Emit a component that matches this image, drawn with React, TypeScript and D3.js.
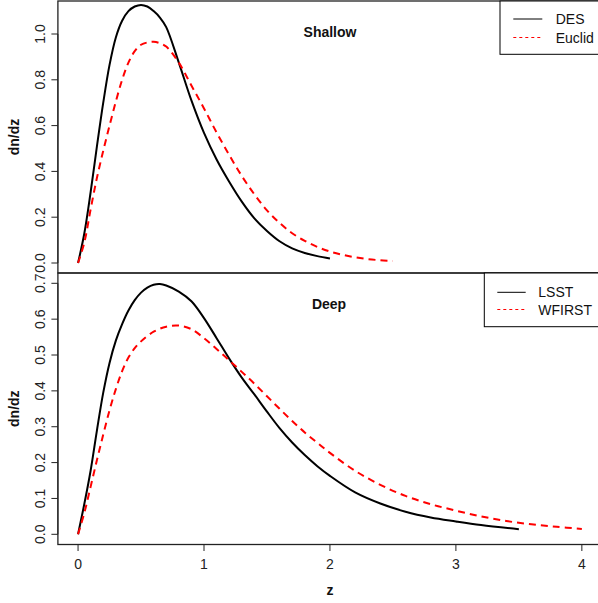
import React from "react";
import * as d3 from "d3";

// ---- data ----
const desZ = [0,0.05,0.1,0.15,0.2,0.25,0.3,0.35,0.4,0.45,0.5,0.55,0.6,0.65,0.7,0.8,0.9,1.0,1.1,1.2,1.3,1.4,1.5,1.6,1.7,1.8,1.9,2.0];
const desN = [0,0.13,0.31,0.51,0.70,0.865,0.985,1.058,1.10,1.12,1.127,1.12,1.10,1.072,1.03,0.875,0.71,0.568,0.452,0.355,0.268,0.195,0.14,0.095,0.064,0.044,0.03,0.02];

const euclidZ = [0,0.05,0.1,0.15,0.2,0.25,0.3,0.35,0.4,0.45,0.5,0.55,0.6,0.65,0.7,0.8,0.9,1.0,1.1,1.2,1.3,1.4,1.5,1.6,1.7,1.8,1.9,2.0,2.1,2.2,2.3,2.4,2.5];
const euclidN = [0,0.09,0.235,0.372,0.49,0.6,0.705,0.8,0.875,0.925,0.953,0.963,0.966,0.96,0.945,0.875,0.775,0.675,0.57,0.472,0.38,0.30,0.23,0.175,0.13,0.097,0.07,0.05,0.036,0.025,0.017,0.012,0.009];

const lsstZ = [0,0.05,0.1,0.15,0.2,0.25,0.3,0.35,0.4,0.45,0.5,0.55,0.6,0.65,0.7,0.8,0.9,1.0,1.1,1.2,1.3,1.4,1.5,1.6,1.7,1.8,1.9,2.0,2.2,2.4,2.6,2.8,3.0,3.2,3.5];
const lsstN = [0,0.085,0.178,0.29,0.395,0.478,0.54,0.586,0.624,0.653,0.674,0.688,0.696,0.698,0.694,0.677,0.65,0.603,0.547,0.49,0.437,0.39,0.342,0.296,0.256,0.221,0.19,0.163,0.117,0.086,0.063,0.047,0.036,0.026,0.014];

const wfirstZ = [0,0.05,0.1,0.15,0.2,0.25,0.3,0.35,0.4,0.45,0.5,0.6,0.7,0.8,0.9,1.0,1.1,1.2,1.3,1.4,1.5,1.6,1.7,1.8,1.9,2.0,2.2,2.4,2.6,2.8,3.0,3.2,3.4,3.6,3.8,4.0];
const wfirstN = [0,0.06,0.133,0.207,0.278,0.346,0.405,0.455,0.493,0.519,0.538,0.565,0.579,0.582,0.572,0.547,0.517,0.485,0.453,0.42,0.385,0.35,0.316,0.284,0.255,0.227,0.177,0.138,0.107,0.084,0.066,0.05,0.037,0.028,0.021,0.015];

const zTicks = [0, 1, 2, 3, 4];
const topTicks = [0, 0.2, 0.4, 0.6, 0.8, 1.0];
const bottomTicks = [0, 0.1, 0.2, 0.3, 0.4, 0.5, 0.6, 0.7];

const FONT = "Liberation Sans, Arial, Helvetica, sans-serif";

export default function App() {
  const left = 57.9, right = 602;
  const topY0 = 1, topY1 = 273, botY0 = 273, botY1 = 544.5;

  const x = d3.scaleLinear().domain([-0.16, 4.16]).range([left, right]);
  const yTop = d3.scaleLinear().domain([0, 1]).range([263, 34]);
  const yBot = d3.scaleLinear().domain([0, 0.7]).range([534.3, 283.3]);

  const mk = (zs: number[], ns: number[], y: d3.ScaleLinear<number, number>) =>
    d3.line<number>().x((_, i) => x(zs[i])).y((d) => y(d)).curve(d3.curveCatmullRom.alpha(0.5))(ns) || "";

  const frame = "#222";

  const yAxis = (ticks: number[], y: d3.ScaleLinear<number, number>, key: string) => (
    <g key={key}>
      <line x1={left} x2={left} y1={y(ticks[0])} y2={y(ticks[ticks.length - 1])} stroke={frame} strokeWidth={1} />
      {ticks.map((t) => (
        <g key={t}>
          <line x1={left - 6.5} x2={left} y1={y(t)} y2={y(t)} stroke={frame} strokeWidth={1} />
          <text transform={`translate(45,${y(t)}) rotate(-90)`} textAnchor="middle" fontSize={14} fontFamily={FONT} fill="#222">
            {t.toFixed(1)}
          </text>
        </g>
      ))}
    </g>
  );

  return (
    <div style={{ position: "fixed", left: 0, top: 0 }}>
      <svg width={598} height={603} style={{ display: "block", background: "#fff" }}>
        <rect x={0} y={0} width={598} height={603} fill="#fff" />
        {/* panel frames */}
        <rect x={left} y={topY0} width={right - left} height={topY1 - topY0} fill="none" stroke={frame} strokeWidth={1.3} />
        <rect x={left} y={botY0} width={right - left} height={botY1 - botY0} fill="none" stroke={frame} strokeWidth={1.3} />

        {/* top panel curves */}
        <path d={mk(desZ, desN, yTop)} fill="none" stroke="#000" strokeWidth={2} />
        <path d={mk(euclidZ, euclidN, yTop)} fill="none" stroke="#ff0000" strokeWidth={2} strokeDasharray="7,5" />

        {/* bottom panel curves */}
        <path d={mk(lsstZ, lsstN, yBot)} fill="none" stroke="#000" strokeWidth={2} />
        <path d={mk(wfirstZ, wfirstN, yBot)} fill="none" stroke="#ff0000" strokeWidth={2} strokeDasharray="7,5" />

        {yAxis(topTicks, yTop, "yt")}
        {yAxis(bottomTicks, yBot, "yb")}

        {/* x axis */}
        <line x1={x(0)} x2={x(4)} y1={botY1} y2={botY1} stroke={frame} strokeWidth={1} />
        {zTicks.map((t) => (
          <g key={t}>
            <line x1={x(t)} x2={x(t)} y1={botY1} y2={botY1 + 6.5} stroke={frame} strokeWidth={1} />
            <text x={x(t)} y={569.3} textAnchor="middle" fontSize={14} fontFamily={FONT} fill="#222">{t}</text>
          </g>
        ))}
        <text x={330} y={595} textAnchor="middle" fontSize={14} fontWeight="bold" fontFamily={FONT} fill="#111">z</text>

        {/* y labels */}
        <text transform={`translate(18.5,137) rotate(-90)`} textAnchor="middle" fontSize={14} fontWeight="bold" fontFamily={FONT} fill="#111">dn/dz</text>
        <text transform={`translate(18.5,408.7) rotate(-90)`} textAnchor="middle" fontSize={14} fontWeight="bold" fontFamily={FONT} fill="#111">dn/dz</text>

        {/* titles */}
        <text x={330} y={37.3} textAnchor="middle" fontSize={14} fontWeight="bold" fontFamily={FONT} fill="#111">Shallow</text>
        <text x={329} y={309.3} textAnchor="middle" fontSize={14} fontWeight="bold" fontFamily={FONT} fill="#111">Deep</text>

        {/* top legend */}
        <rect x={500} y={1} width={110} height={53.3} fill="#fff" stroke="#000" strokeWidth={1} />
        <line x1={513.3} x2={542.3} y1={19} y2={19} stroke="#000" strokeWidth={1} />
        <line x1={513.3} x2={542.3} y1={37.5} y2={37.5} stroke="#ff0000" strokeWidth={1} strokeDasharray="3,3" />
        <text x={555.7} y={24} fontSize={14} fontFamily={FONT} fill="#111">DES</text>
        <text x={555.7} y={42.5} fontSize={14} fontFamily={FONT} fill="#111">Euclid</text>

        {/* bottom legend */}
        <rect x={484.3} y={273} width={130} height={53.7} fill="#fff" stroke="#000" strokeWidth={1} />
        <line x1={497.3} x2={525.7} y1={292.3} y2={292.3} stroke="#000" strokeWidth={1} />
        <line x1={497.3} x2={525.7} y1={309.5} y2={309.5} stroke="#ff0000" strokeWidth={1} strokeDasharray="3,3" />
        <text x={538.3} y={297.3} fontSize={14} fontFamily={FONT} fill="#111">LSST</text>
        <text x={538.3} y={314.8} fontSize={14} fontFamily={FONT} fill="#111">WFIRST</text>
      </svg>
    </div>
  );
}
